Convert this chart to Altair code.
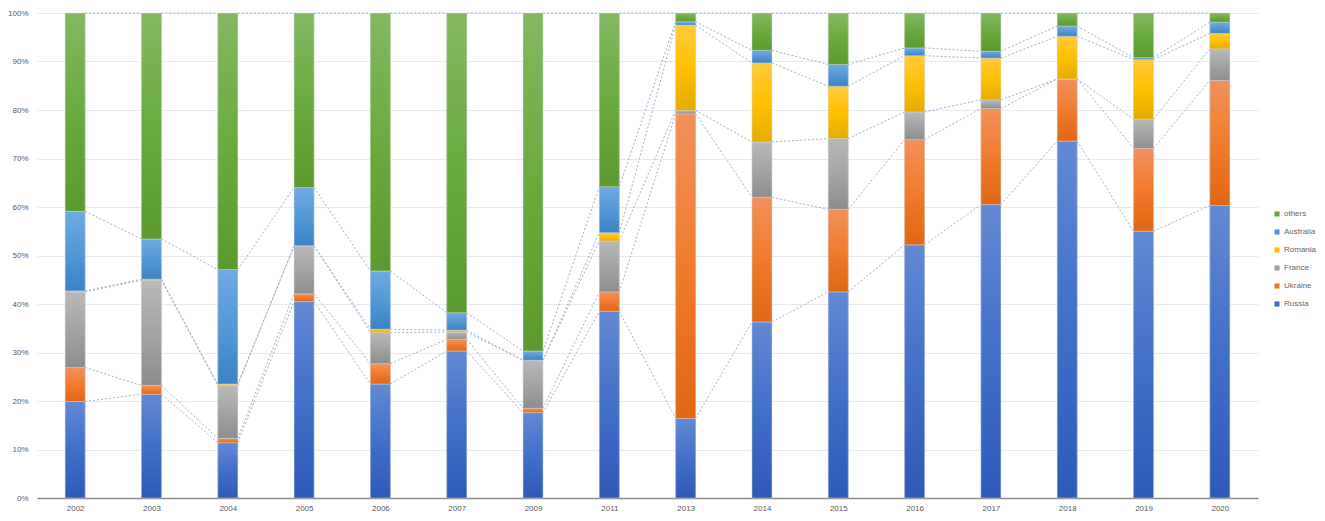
import altair as alt
import pandas as pd

years = ["2002", "2003", "2004", "2005", "2006", "2007", "2009", "2011",
         "2013", "2014", "2015", "2016", "2017", "2018", "2019", "2020"]
russia    = [19.9, 21.4, 11.4, 40.5, 23.5, 30.3, 17.6, 38.5, 16.4, 36.3, 42.5, 52.2, 60.5, 73.6, 55.0, 60.3]
ukraine   = [7.0, 1.8, 0.9, 1.6, 4.2, 2.4, 0.9, 4.0, 62.8, 25.7, 17.0, 21.7, 19.8, 12.8, 17.1, 25.8]
france    = [15.6, 21.7, 10.9, 9.9, 6.4, 1.5, 9.9, 10.5, 0.7, 11.4, 14.6, 5.7, 1.8, 0.0, 6.0, 6.5]
romania   = [0.2, 0.2, 0.3, 0.0, 0.7, 0.4, 0.0, 1.7, 17.6, 16.3, 10.8, 11.6, 8.6, 8.8, 12.3, 3.2]
australia = [16.4, 8.3, 23.6, 12.0, 12.0, 3.6, 1.9, 9.5, 0.7, 2.6, 4.5, 1.6, 1.4, 2.1, 0.4, 2.3]
others    = [40.9, 46.6, 52.9, 36.0, 53.2, 61.8, 69.7, 35.8, 1.8, 7.7, 10.6, 7.2, 7.9, 2.7, 9.2, 1.9]

series_names = ["Russia", "Ukraine", "France", "Romania", "Australia", "others"]
series_vals = [russia, ukraine, france, romania, australia, others]

# styles
legend_order = ["others", "Australia", "Romania", "France", "Ukraine", "Russia"]
solid = {"Russia": "#3d6cc4", "Ukraine": "#ef7628", "France": "#a0a0a0",
         "Romania": "#ffc000", "Australia": "#4f94d4", "others": "#66a73d"}
grad = {
    "Russia": ["#6289d4", "#4170c8", "#2d5ab8"],
    "Ukraine": ["#f2915c", "#f07b2c", "#e06714"],
    "France": ["#b9b9b9", "#a4a4a4", "#8d8d8d"],
    "Romania": ["#ffcb3d", "#ffc000", "#e5ac00"],
    "Australia": ["#6eaae2", "#5598d6", "#3a83c6"],
    "others": ["#82b862", "#6aab40", "#5a9a2e"],
}
bar_half = 0.131

rows = []
for i, y in enumerate(years):
    total = sum(v[i] for v in series_vals)
    cum = 0.0
    for name, vals in zip(series_names, series_vals):
        lo = cum / total * 100
        cum += vals[i]
        hi = cum / total * 100
        rows.append({"idx": i, "year": y, "series": name, "lo": lo, "hi": hi})
df = pd.DataFrame(rows)

lines = []
for i in range(len(years) - 1):
    a = df[df.idx == i].set_index("series")
    b = df[df.idx == i + 1].set_index("series")
    for name in series_names:
        lines.append({"xa": i, "xb": i + 1, "ya": a.loc[name, "hi"], "yb": b.loc[name, "hi"]})
ldf = pd.DataFrame(lines)

label_expr = "[" + ",".join("'" + y + "'" for y in years) + "][datum.value]"

xscale = alt.Scale(domain=[-0.5, len(years) - 0.5], nice=False, zero=False)
yscale = alt.Scale(domain=[0, 100], nice=False)

xaxis = alt.Axis(values=list(range(len(years))), labelExpr=label_expr, grid=False, ticks=False,
                 tickSize=0, domainColor="#8c8c8c", domainWidth=1.5, labelFontSize=8,
                 labelColor="#595959", labelPadding=6, title=None, labelFlush=False)
yaxis = alt.Axis(values=list(range(0, 101, 10)), labelExpr="datum.value + '%'", grid=True,
                 gridColor="#e6eaf1", gridWidth=1, ticks=False, tickSize=0, domain=False,
                 labelFontSize=8, labelColor="#595959", labelPadding=9, title=None)


def xenc(field):
    return alt.X(field, type="quantitative", scale=xscale, axis=xaxis)


def yenc(field):
    return alt.Y(field, type="quantitative", scale=yscale, axis=yaxis)


base = alt.Chart(df).transform_calculate(
    xl="datum.idx - %f" % bar_half, xr="datum.idx + %f" % bar_half
)

series_lines = alt.Chart(ldf).transform_calculate(
    x1="datum.xa + %f" % bar_half, x2="datum.xb - %f" % bar_half
).mark_rule(color="#97a7c4", strokeWidth=0.9, strokeDash=[2, 2]).encode(
    x=xenc("x1"),
    x2="x2:Q",
    y=yenc("ya"),
    y2="yb:Q",
)

legend_bars = base.mark_bar().encode(
    x=xenc("xl"),
    x2="xr:Q",
    y=yenc("lo"),
    y2="hi:Q",
    color=alt.Color("series:N",
                    scale=alt.Scale(domain=legend_order, range=[solid[s] for s in legend_order]),
                    legend=alt.Legend(title=None, orient="none", legendX=1236, legendY=197,
                                      symbolType="square", symbolSize=26, symbolStrokeWidth=0,
                                      labelFontSize=8, labelColor="#666666", rowPadding=10,
                                      labelOffset=3)),
)

layers = [series_lines, legend_bars]
for name in series_names:
    g = alt.Gradient(gradient="linear", x1=0, x2=0, y1=0, y2=1,
                     stops=[alt.GradientStop(color=grad[name][0], offset=0),
                            alt.GradientStop(color=grad[name][1], offset=0.5),
                            alt.GradientStop(color=grad[name][2], offset=1)])
    layers.append(
        base.transform_filter(alt.datum.series == name).mark_bar(
            color=g, stroke="#d4d8de", strokeWidth=0.5).encode(
            x=xenc("xl"),
            x2="xr:Q",
            y=yenc("lo"),
            y2="hi:Q",
        )
    )

chart = alt.layer(*layers).properties(
    width=1221, height=485,
    autosize=alt.AutoSizeParams(type="none"),
    padding={"left": 29, "top": 5, "right": 58, "bottom": 14},
).configure(font="Liberation Sans", view=alt.ViewConfig(stroke=None))

chart.save("out.html", embed_options={"renderer": "svg", "actions": False})
